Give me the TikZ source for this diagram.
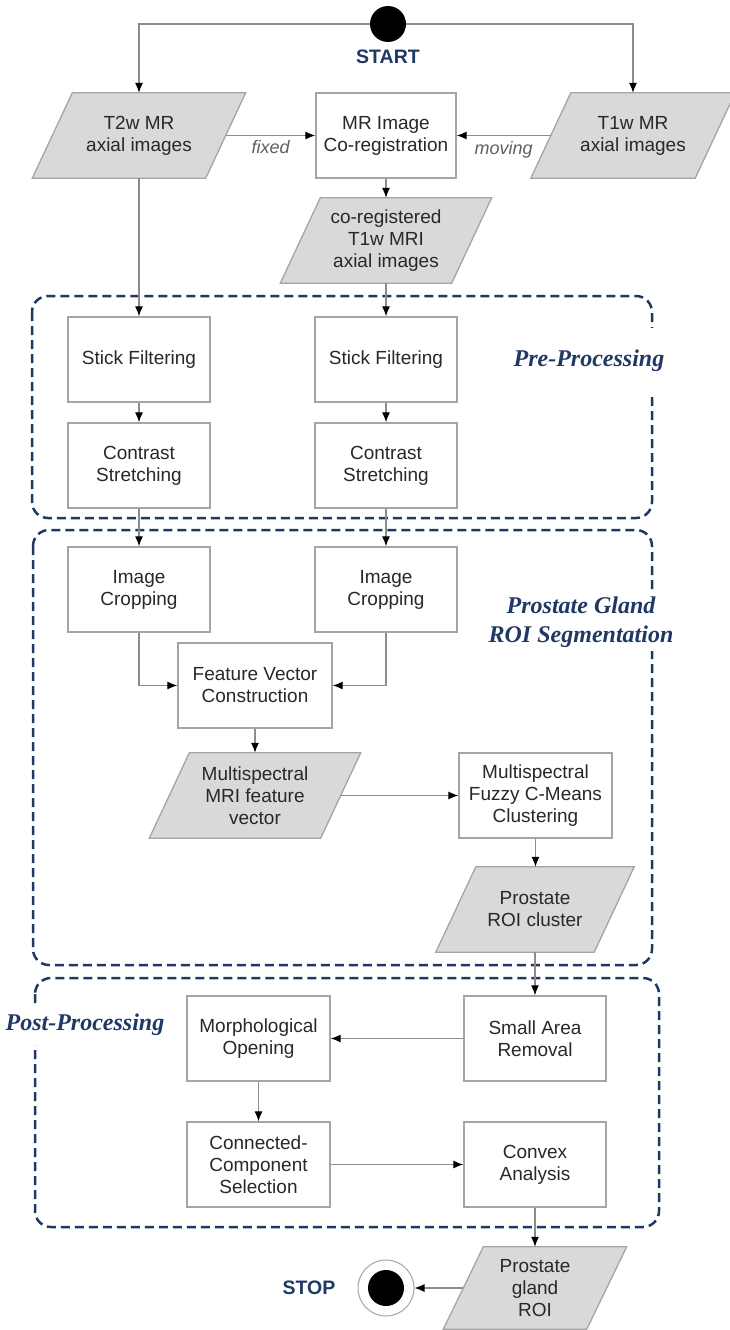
\documentclass[tikz,border=0pt]{standalone}
\usepackage{fontspec}
\setmainfont{Liberation Sans}
\newfontfamily\lblfont{Liberation Serif}
\usetikzlibrary{arrows.meta,backgrounds}
\definecolor{navy}{RGB}{31,56,100}
\definecolor{parafill}{RGB}{217,217,217}
\definecolor{boxline}{RGB}{165,165,165}
\definecolor{linec}{RGB}{140,140,140}
\definecolor{txt}{RGB}{40,40,40}
\definecolor{labgray}{RGB}{95,95,95}
\begin{document}
\begin{tikzpicture}[x=1pt,y=-1pt,
  box/.style={draw=boxline, line width=1.3pt, fill=white, minimum width=142pt, minimum height=85pt, inner sep=0pt, align=center, font=\fontsize{19}{22}\selectfont, text=txt},
  para/.style={minimum height=85pt, inner sep=0pt, align=center, font=\fontsize{19}{22}\selectfont, text=txt},
  parashape/.style={fill=parafill, draw=boxline, line width=1.3pt},
  conn/.style={draw=linec, line width=1.2pt, -{Latex[length=10pt,width=8pt,color=black]}},
  region/.style={draw=navy, line width=2.5pt, dash pattern=on 9pt off 5pt, rounded corners=16pt},
  reglabel/.style={font=\lblfont\bfseries\itshape\fontsize{24}{29}\selectfont, text=navy, fill=white, align=center},
  term/.style={font=\bfseries\fontsize{19.5}{22}\selectfont, text=navy},
  lab/.style={font=\itshape\fontsize{18}{22}\selectfont, text=labgray}
]
\useasboundingbox (0,0) rectangle (730,1330);
\begin{scope}[on background layer]
  \fill[white] (0,0) rectangle (730,1330);
\end{scope}

% regions
\draw[region] (32,296) rectangle (652,518);
\draw[region] (33,530) rectangle (652,965);
\draw[region] (35,978) rectangle (659,1227);
\node[reglabel, inner xsep=4pt, inner ysep=22pt] (prelbl) at (589,361) {Pre-Processing};
\node[reglabel, inner xsep=4pt, inner ysep=4pt] (seglbl) at (581,622) {Prostate Gland\\ROI Segmentation};
\node[reglabel, inner xsep=4pt, inner ysep=9pt] (postlbl) at (85,1025) {Post-Processing};

% start
\node[circle, fill=black, minimum size=36pt, inner sep=0pt] (start) at (388,24) {};
\node[term] (starttxt) at (388,57) {START};

% top row
\node[para, minimum width=173pt] (t2w) at (139,135.5) {T2w MR\\axial images};
\node[box, minimum width=140pt] (coreg) at (386,135.5) {MR Image\\Co-registration};
\node[para, minimum width=164pt] (t1w) at (633,135.5) {T1w MR\\axial images};
\node[para, minimum width=171pt] (cimg) at (386,240.5) {co-registered\\T1w MRI\\axial images};

% pre-processing
\node[box] (sf1) at (139,359.5) {Stick Filtering};
\node[box] (sf2) at (386,359.5) {Stick Filtering};
\node[box] (cs1) at (139,465.5) {Contrast\\Stretching};
\node[box] (cs2) at (386,465.5) {Contrast\\Stretching};

% segmentation
\node[box] (ic1) at (139,589.5) {Image\\Cropping};
\node[box] (ic2) at (386,589.5) {Image\\Cropping};
\node[box, minimum width=154pt] (fv) at (255,685.5) {Feature Vector\\Construction};
\node[para, minimum width=171pt] (mfv) at (255,795.5) {Multispectral\\MRI feature\\vector};
\node[box, minimum width=153pt] (fcm) at (535.5,795.5) {Multispectral\\Fuzzy C-Means\\Clustering};
\node[para, minimum width=158pt] (roi) at (535,909.5) {Prostate\\ROI cluster};

% post-processing
\node[box] (sar) at (535,1038.5) {Small Area\\Removal};
\node[box, minimum width=143pt] (mo) at (258.5,1038.5) {Morphological\\Opening};
\node[box, minimum width=143pt] (ccs) at (258.5,1164.5) {Connected-\\Component\\Selection};
\node[box] (ca) at (535,1164.5) {Convex\\Analysis};

% end
\node[para, minimum width=143pt, minimum height=82pt] (pgr) at (535,1288) {Prostate\\gland\\ROI};
\node[circle, draw=boxline, line width=1pt, fill=white, minimum size=56pt, inner sep=0pt,
  path picture={\fill[black] (path picture bounding box.center) circle (18pt);}] (stop) at (386,1288) {};
\node[term] (stoptxt) at (309,1288) {STOP};

% parallelogram shapes
\begin{scope}[on background layer]
  \foreach \n in {t2w,t1w,cimg,mfv,roi,pgr}
    \filldraw[parashape] ([xshift=20pt]\n.north west) -- ([xshift=20pt]\n.north east)
      -- ([xshift=-20pt]\n.south east) -- ([xshift=-20pt]\n.south west) -- cycle;
\end{scope}

% connectors
\draw[conn] (start.west) -| (t2w.north);
\draw[conn] (start.east) -| (t1w.north);
\draw[conn] (t2w.east) -- node[lab, yshift=-12pt] {fixed} (coreg.west);
\draw[conn] (t1w.west) -- node[lab, yshift=-14pt] {moving} (coreg.east);
\draw[conn] (coreg) -- (cimg);
\draw[conn] (t2w) -- (sf1);
\draw[conn] (cimg) -- (sf2);
\draw[conn] (sf1) -- (cs1);
\draw[conn] (sf2) -- (cs2);
\draw[conn] (cs1) -- (ic1);
\draw[conn] (cs2) -- (ic2);
\draw[conn] (ic1.south) |- (fv.west);
\draw[conn] (ic2.south) |- (fv.east);
\draw[conn] (fv) -- (mfv);
\draw[conn] (mfv.east) -- (fcm.west);
\draw[conn] (fcm.south) -- (fcm.south |- roi.north);
\draw[conn] (roi) -- (sar);
\draw[conn] (sar) -- (mo);
\draw[conn] (mo) -- (ccs);
\draw[conn] (ccs) -- (ca);
\draw[conn] (ca) -- (pgr);
\draw[conn] (pgr.west) -- (stop.east);
\end{tikzpicture}
\end{document}
